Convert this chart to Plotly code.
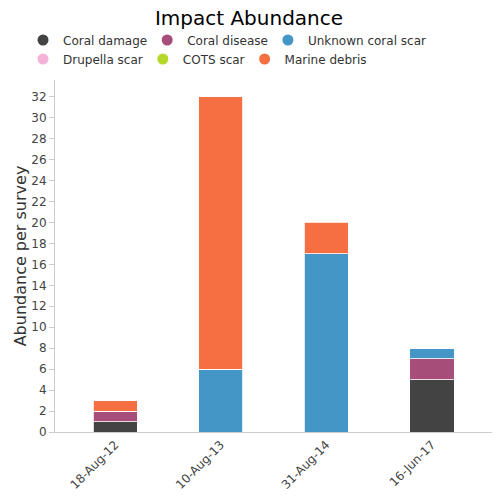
import plotly.graph_objects as go

categories = ["18-Aug-12", "10-Aug-13", "31-Aug-14", "16-Jun-17"]
series_names = ["Coral damage", "Coral disease", "Unknown coral scar",
                "Drupella scar", "COTS scar", "Marine debris"]
coral_damage = [1, 0, 0, 5]
coral_disease = [1, 0, 0, 2]
unknown_scar = [0, 6, 17, 1]
drupella_scar = [0, 0, 0, 0]
cots_scar = [0, 0, 0, 0]
marine_debris = [1, 26, 3, 0]
y_ticks = list(range(0, 33, 2))

colors = ["#434343", "#a64d79", "#4396c6", "#f4b3d6", "#b5d92a", "#f66f43"]
values = [coral_damage, coral_disease, unknown_scar, drupella_scar, cots_scar, marine_debris]
legend_ids = ["legend", "legend", "legend", "legend2", "legend2", "legend2"]

fig = go.Figure()
for name, vals, c in zip(series_names, values, colors):
    fig.add_trace(go.Bar(x=categories, y=vals, name=name, marker_color=c,
                         marker_line_color="white", marker_line_width=0.8,
                         showlegend=False, width=0.42))
for name, c, lg in zip(series_names, colors, legend_ids):
    fig.add_trace(go.Scatter(x=[None], y=[None], mode="markers", name=name, legend=lg,
                             marker=dict(color=c, size=11, symbol="circle")))

# figure is drawn 8px in from the page corner (page body margin)
W, H = 492, 492
ML, MR, MT, MB = 47, 8, 72, 68
PW, PH = W - ML - MR, H - MT - MB

def px_x(page_x):
    return (page_x - 8 - ML) / PW

def px_y(page_y):
    return (H - MB - (page_y - 8)) / PH

legend_style = dict(orientation="h", xref="paper", yref="paper", xanchor="left",
                    yanchor="middle", traceorder="normal", indentation=-5,
                    bgcolor="rgba(0,0,0,0)", borderwidth=0,
                    font=dict(size=12, color="#333333"))

fig.update_layout(
    width=W, height=H,
    barmode="stack",
    plot_bgcolor="white", paper_bgcolor="white",
    font=dict(family="DejaVu Sans", color="#333333"),
    title=dict(text="Impact Abundance", x=241 / W, xanchor="center", xref="container",
               y=1 - 10 / H, yanchor="middle", yref="container",
               font=dict(size=20, color="#000000")),
    margin=dict(l=ML, r=MR, t=MT, b=MB, autoexpand=False),
    legend=dict(legend_style, x=px_x(28), y=px_y(40)),
    legend2=dict(legend_style, x=px_x(28), y=px_y(59)),
    xaxis=dict(range=[-0.57, 3.57], showline=True, linecolor="#cccccc", tickangle=-45,
               ticks="", tickfont=dict(size=12, color="#444444")),
    yaxis=dict(range=[0, 33.6], tickvals=y_ticks,
               showgrid=False, showline=True,
               linecolor="#cccccc", ticks="outside", ticklen=5, tickcolor="#cccccc",
               tickfont=dict(size=12, color="#444444"),
               title=dict(text="Abundance per survey", font=dict(size=16, color="#333333"),
                          standoff=0)),
)
fig.write_html("out.html")
